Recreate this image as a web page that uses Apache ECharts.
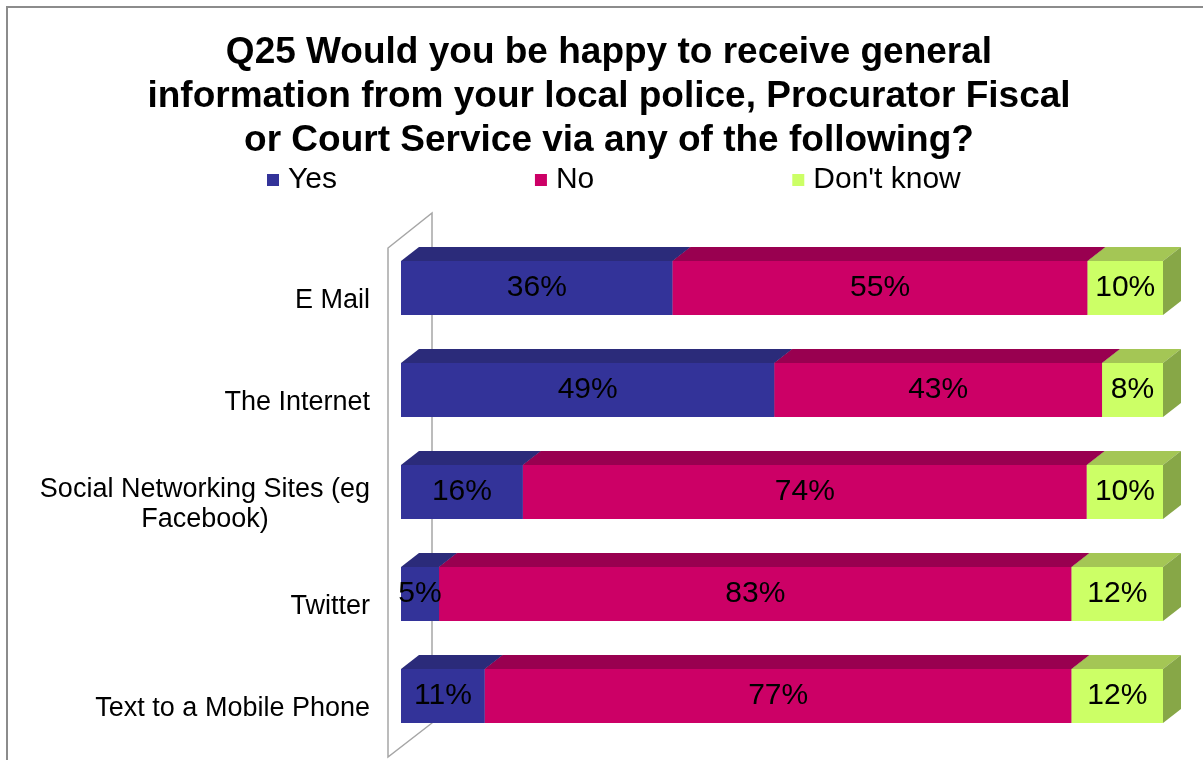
<!DOCTYPE html>
<html>
<head>
<meta charset="utf-8">
<script src="https://cdn.jsdelivr.net/npm/echarts@6/dist/echarts.min.js"></script>
<style>
  html, body { margin: 0; padding: 0; background: #ffffff; }
  #chart { width: 1203px; height: 760px; }
</style>
</head>
<body>
<div id="chart"></div>
<script>
// Survey answers, percent of respondents per channel
const categories = ['E Mail', 'The Internet', 'Social Networking Sites (eg Facebook)', 'Twitter', 'Text to a Mobile Phone'];
const seriesNames = ['Yes', 'No', "Don't know"];
const yesValues = [36, 49, 16, 5, 11];
const noValues = [55, 43, 74, 83, 77];
const dontKnowValues = [10, 8, 10, 12, 12];
const titleText = 'Q25 Would you be happy to receive general\ninformation from your local police, Procurator Fiscal\nor Court Service via any of the following?';

const groups = [yesValues, noValues, dontKnowValues];
const frontColors = ['#333399', '#cc0066', '#ccff66'];
const topColors = ['#2b2b7a', '#990050', '#a4c655'];
const sideColors = ['#24246a', '#820044', '#87a747'];

// 100% stacked layout: each segment is its share of the row total
const totals = categories.map((_, i) => groups.reduce((s, g) => s + g[i], 0));
const shares = groups.map(g => g.map((v, i) => v / totals[i] * 100));

const DX = 18, DY = 14, BAR = 54;
const FONT = '"Liberation Sans", Arial, sans-serif';

const chart = echarts.init(document.getElementById('chart'), null, { renderer: 'canvas' });

const barSeries = groups.map((g, k) => ({
  name: seriesNames[k],
  type: 'bar',
  stack: 'total',
  barWidth: BAR,
  z: 3,
  itemStyle: { color: frontColors[k] },
  label: {
    show: true,
    position: 'inside',
    color: '#000000',
    fontFamily: FONT,
    fontSize: 30,
    formatter: p => g[p.dataIndex] + '%'
  },
  emphasis: { disabled: true },
  data: shares[k]
}));

// Top and right-hand faces that give each segment its depth
const depthSeries = groups.map((g, k) => ({
  name: seriesNames[k] + ' depth',
  type: 'custom',
  z: 2,
  silent: true,
  encode: { x: [0, 1], y: 2 },
  data: categories.map((_, i) => {
    let start = 0;
    for (let j = 0; j < k; j++) start += shares[j][i];
    return [start, start + shares[k][i], i];
  }),
  renderItem: (params, api) => {
    const a = api.coord([api.value(0), api.value(2)]);
    const b = api.coord([api.value(1), api.value(2)]);
    const yTop = a[1] - BAR / 2;
    return {
      type: 'group',
      children: [
        {
          type: 'polygon',
          shape: { points: [[a[0], yTop], [b[0], yTop], [b[0] + DX, yTop - DY], [a[0] + DX, yTop - DY]] },
          style: { fill: topColors[k] }
        },
        {
          type: 'polygon',
          shape: { points: [[b[0], yTop], [b[0] + DX, yTop - DY], [b[0] + DX, yTop - DY + BAR], [b[0], yTop + BAR]] },
          style: { fill: sideColors[k] }
        }
      ]
    };
  }
}));

chart.setOption({
  animation: false,
  backgroundColor: '#ffffff',
  legend: {
    data: seriesNames,
    left: 262,
    top: 160,
    icon: 'rect',
    itemWidth: 12,
    itemHeight: 12,
    itemGap: 198,
    textStyle: { fontFamily: FONT, fontSize: 30, color: '#000000', padding: [0, 0, 0, 4] }
  },
  grid: { left: 401, right: 40, top: 237, height: 510, containLabel: false },
  xAxis: { type: 'value', min: 0, max: 100, show: false },
  yAxis: {
    type: 'category',
    inverse: true,
    data: categories,
    axisLine: { show: false },
    axisTick: { show: false },
    splitLine: { show: false },
    axisLabel: {
      margin: 31,
      color: '#000000',
      fontFamily: FONT,
      fontSize: 27,
      lineHeight: 30,
      padding: [26, 0, 0, 0],
      formatter: v => v === categories[2]
        ? '{a|Social Networking Sites (eg}\n{b|Facebook)}'
        : v,
      rich: {
        a: { fontFamily: FONT, fontSize: 27, color: '#000000', lineHeight: 30 },
        b: { fontFamily: FONT, fontSize: 27, color: '#000000', lineHeight: 30, align: 'center' }
      }
    }
  },
  graphic: [
    {
      type: 'rect',
      z: 0,
      silent: true,
      shape: { x: 7, y: 7, width: 1300, height: 900 },
      style: { fill: null, stroke: '#8c8c8c', lineWidth: 2 }
    },
    {
      type: 'polygon',
      z: 0,
      silent: true,
      shape: { points: [[388, 248], [432, 213], [432, 723], [388, 757]] },
      style: { fill: null, stroke: '#a6a6a6', lineWidth: 1.5 }
    },
    {
      type: 'text',
      z: 5,
      silent: true,
      x: 609,
      y: 31,
      style: {
        text: titleText,
        align: 'center',
        verticalAlign: 'top',
        fontFamily: FONT,
        fontSize: 37,
        fontWeight: 'bold',
        lineHeight: 44,
        fill: '#000000'
      }
    }
  ],
  series: [...barSeries, ...depthSeries]
});
</script>
</body>
</html>
